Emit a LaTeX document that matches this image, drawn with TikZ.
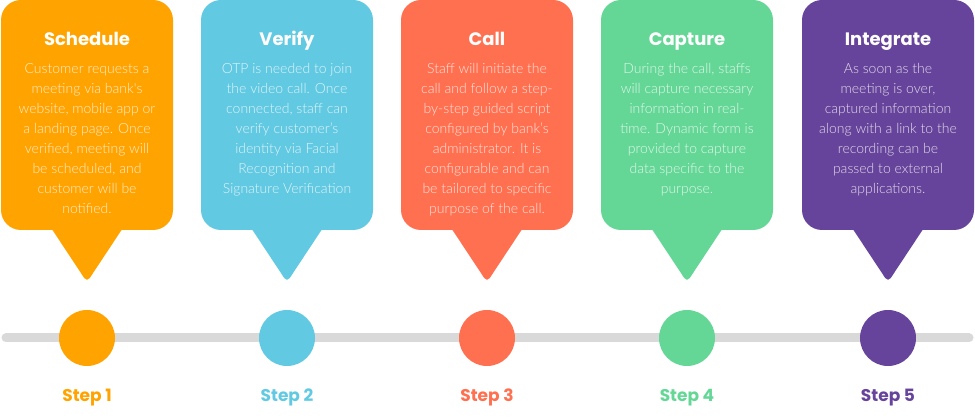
\documentclass[tikz,border=0pt]{standalone}
\usepackage{fontspec}
\usetikzlibrary{calc}
\newfontfamily\titlefont{Poppins}
\newfontfamily\bodyfont{Lato}[UprightFont=* Light]
\definecolor{cOrange}{HTML}{FFA300}
\definecolor{cBlue}{HTML}{62C9E2}
\definecolor{cCoral}{HTML}{FF7050}
\definecolor{cGreen}{HTML}{64D796}
\definecolor{cPurple}{HTML}{67449B}
\definecolor{cTrack}{HTML}{D9D9D9}
\tikzset{
  box/.style={rectangle, rounded corners=20pt, minimum width=172pt, minimum height=230pt, inner sep=0pt, draw=none},
  pointer/.style={rounded corners=5pt},
  titletext/.style={font=\titlefont\bfseries\fontsize{18}{20}\selectfont, text=white, inner sep=0pt, anchor=base},
  bodytext/.style={font=\bodyfont\fontsize{14}{20}\selectfont, text=white, text opacity=0.8, align=center, inner sep=0pt, anchor=north},
  dot/.style={circle, minimum size=56pt, inner sep=0pt, draw=none},
  steplabel/.style={font=\titlefont\bfseries\fontsize{17}{20}\selectfont, inner sep=0pt, anchor=base},
  track/.style={draw=cTrack, line width=9pt, line cap=round}
}
\newcommand\mkstep[5]{%
  \node[box, fill=#2] (box#3) at (#1,115) {};
  \fill[#2, pointer] ($(box#3.south)+(-41,-10)$) -- ($(box#3.south)+(0,52)$) -- ($(box#3.south)+(41,-10)$) -- cycle;
  \node[titletext] (title#3) at (#1,46) {#4};
  \node[bodytext] (body#3) at (#1,63) {#5};
  \node[dot, fill=#2] (dot#3) at (#1,338) {};
  \node[steplabel, text=#2] (lab#3) at (#1,402) {Step #3};
}
\begin{document}
\begin{tikzpicture}[x=1pt, y=-1pt]
\useasboundingbox (0,0) rectangle (975,419);
\coordinate (lineL) at (6,338);
\coordinate (lineR) at (969,338);
\draw[track] (lineL) -- (lineR);
\mkstep{87}{cOrange}{1}{Schedule}{Customer requests a\\meeting via bank's\\website, mobile app or\\a landing page. Once\\verified, meeting will\\be scheduled, and\\customer will be\\notified.}
\mkstep{287}{cBlue}{2}{Verify}{OTP is needed to join\\the video call. Once\\connected, staff can\\verify customer’s\\identity via Facial\\Recognition and\\Signature Verification}
\mkstep{487}{cCoral}{3}{Call}{Staff will initiate the\\call and follow a step-\\by-step guided script\\configured by bank’s\\administrator. It is\\configurable and can\\be tailored to specific\\purpose of the call.}
\mkstep{687}{cGreen}{4}{Capture}{During the call, staffs\\will capture necessary\\information in real-\\time. Dynamic form is\\provided to capture\\data specific to the\\purpose.}
\mkstep{888}{cPurple}{5}{Integrate}{As soon as the\\meeting is over,\\captured information\\along with a link to the\\recording can be\\passed to external\\applications.}
\end{tikzpicture}
\end{document}
